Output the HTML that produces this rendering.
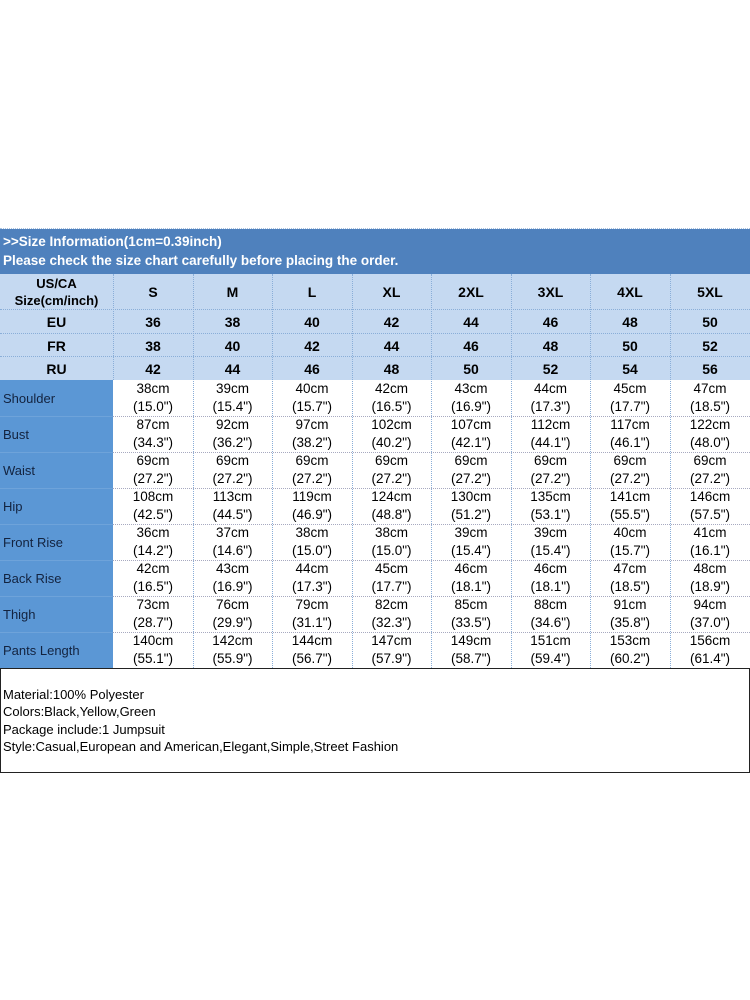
<!DOCTYPE html>
<html>
<head>
<meta charset="utf-8">
<style>
html,body{margin:0;padding:0;background:#fff;}
body{width:750px;height:1000px;position:relative;overflow:hidden;font-family:"Liberation Sans",Arial,sans-serif;}
.a{position:absolute;}
.hdr{left:0;top:229px;width:750px;height:45px;background:#4f81bd;}
.ttl{position:absolute;left:3px;color:#fff;font-weight:bold;font-size:13.5px;white-space:nowrap;}
.light{left:0;top:274px;width:750px;height:106px;background:#c5d9f1;}
.lab{left:0;top:380px;width:113px;height:289px;background:#5b97d5;}
.c{position:absolute;display:flex;align-items:center;justify-content:center;text-align:center;}
.b{font-weight:bold;font-size:14px;color:#000;}
.d{font-size:13.5px;color:#000;line-height:18px;}
.l{position:absolute;left:3px;font-size:13px;color:#13233f;display:flex;align-items:center;height:36px;}
.h{position:absolute;height:0;border-top:1px dotted #8aaed8;}
.v{position:absolute;width:0;border-left:1px dotted #8aaed8;}
.box{left:0;top:668px;width:748px;height:103px;border:1px solid #222;}
.txt{position:absolute;left:3px;top:686px;font-size:13px;line-height:17.3px;color:#000;white-space:nowrap;}
</style>
</head>
<body>
<div class="a hdr"></div>
<div class="ttl" style="top:234px;">&gt;&gt;Size Information(1cm=0.39inch)</div>
<div class="ttl" style="top:253px;">Please check the size chart carefully before placing the order.</div>
<div class="a light"></div>
<div class="a lab"></div>

<!-- horizontal lines -->
<div class="h" style="left:0;top:228px;width:750px;border-top-color:#a9c3e3;"></div>
<div class="h" style="left:0;top:309px;width:750px;"></div>
<div class="h" style="left:0;top:333px;width:750px;"></div>
<div class="h" style="left:0;top:356px;width:750px;"></div>
<div class="h" style="left:113px;top:416px;width:637px;border-top-color:#a7a9c0;"></div>
<div class="h" style="left:113px;top:452px;width:637px;border-top-color:#a7a9c0;"></div>
<div class="h" style="left:113px;top:488px;width:637px;border-top-color:#a7a9c0;"></div>
<div class="h" style="left:113px;top:524px;width:637px;border-top-color:#a7a9c0;"></div>
<div class="h" style="left:113px;top:560px;width:637px;border-top-color:#a7a9c0;"></div>
<div class="h" style="left:113px;top:596px;width:637px;border-top-color:#a7a9c0;"></div>
<div class="h" style="left:113px;top:632px;width:637px;border-top-color:#a7a9c0;"></div>
<div class="h" style="left:0;top:416px;width:113px;border-top:1px solid #6ea3da;"></div>
<div class="h" style="left:0;top:452px;width:113px;border-top:1px solid #6ea3da;"></div>
<div class="h" style="left:0;top:488px;width:113px;border-top:1px solid #6ea3da;"></div>
<div class="h" style="left:0;top:524px;width:113px;border-top:1px solid #6ea3da;"></div>
<div class="h" style="left:0;top:560px;width:113px;border-top:1px solid #6ea3da;"></div>
<div class="h" style="left:0;top:596px;width:113px;border-top:1px solid #6ea3da;"></div>
<div class="h" style="left:0;top:632px;width:113px;border-top:1px solid #6ea3da;"></div>

<!-- vertical lines -->
<div class="v" style="left:113px;top:274px;height:106px;"></div>
<div class="v" style="left:193px;top:274px;height:394px;"></div>
<div class="v" style="left:272px;top:274px;height:394px;"></div>
<div class="v" style="left:352px;top:274px;height:394px;"></div>
<div class="v" style="left:431px;top:274px;height:394px;"></div>
<div class="v" style="left:511px;top:274px;height:394px;"></div>
<div class="v" style="left:590px;top:274px;height:394px;"></div>
<div class="v" style="left:670px;top:274px;height:394px;"></div>

<!-- header rows -->
<div class="c b" style="left:0;top:274px;width:113px;height:36px;font-size:13px;line-height:17px;">US/CA<br>Size(cm/inch)</div>
<div class="c b" style="left:113px;top:274px;width:80px;height:36px;">S</div>
<div class="c b" style="left:193px;top:274px;width:79px;height:36px;">M</div>
<div class="c b" style="left:272px;top:274px;width:80px;height:36px;">L</div>
<div class="c b" style="left:352px;top:274px;width:79px;height:36px;">XL</div>
<div class="c b" style="left:431px;top:274px;width:80px;height:36px;">2XL</div>
<div class="c b" style="left:511px;top:274px;width:79px;height:36px;">3XL</div>
<div class="c b" style="left:590px;top:274px;width:80px;height:36px;">4XL</div>
<div class="c b" style="left:670px;top:274px;width:80px;height:36px;">5XL</div>

<div class="c b" style="left:0;top:310px;width:113px;height:23px;">EU</div>
<div class="c b" style="left:113px;top:310px;width:80px;height:23px;">36</div>
<div class="c b" style="left:193px;top:310px;width:79px;height:23px;">38</div>
<div class="c b" style="left:272px;top:310px;width:80px;height:23px;">40</div>
<div class="c b" style="left:352px;top:310px;width:79px;height:23px;">42</div>
<div class="c b" style="left:431px;top:310px;width:80px;height:23px;">44</div>
<div class="c b" style="left:511px;top:310px;width:79px;height:23px;">46</div>
<div class="c b" style="left:590px;top:310px;width:80px;height:23px;">48</div>
<div class="c b" style="left:670px;top:310px;width:80px;height:23px;">50</div>

<div class="c b" style="left:0;top:334px;width:113px;height:23px;">FR</div>
<div class="c b" style="left:113px;top:334px;width:80px;height:23px;">38</div>
<div class="c b" style="left:193px;top:334px;width:79px;height:23px;">40</div>
<div class="c b" style="left:272px;top:334px;width:80px;height:23px;">42</div>
<div class="c b" style="left:352px;top:334px;width:79px;height:23px;">44</div>
<div class="c b" style="left:431px;top:334px;width:80px;height:23px;">46</div>
<div class="c b" style="left:511px;top:334px;width:79px;height:23px;">48</div>
<div class="c b" style="left:590px;top:334px;width:80px;height:23px;">50</div>
<div class="c b" style="left:670px;top:334px;width:80px;height:23px;">52</div>

<div class="c b" style="left:0;top:357px;width:113px;height:23px;">RU</div>
<div class="c b" style="left:113px;top:357px;width:80px;height:23px;">42</div>
<div class="c b" style="left:193px;top:357px;width:79px;height:23px;">44</div>
<div class="c b" style="left:272px;top:357px;width:80px;height:23px;">46</div>
<div class="c b" style="left:352px;top:357px;width:79px;height:23px;">48</div>
<div class="c b" style="left:431px;top:357px;width:80px;height:23px;">50</div>
<div class="c b" style="left:511px;top:357px;width:79px;height:23px;">52</div>
<div class="c b" style="left:590px;top:357px;width:80px;height:23px;">54</div>
<div class="c b" style="left:670px;top:357px;width:80px;height:23px;">56</div>

<!-- labels -->
<div class="l" style="top:380px;">Shoulder</div>
<div class="l" style="top:416px;">Bust</div>
<div class="l" style="top:452px;">Waist</div>
<div class="l" style="top:488px;">Hip</div>
<div class="l" style="top:524px;">Front Rise</div>
<div class="l" style="top:560px;">Back Rise</div>
<div class="l" style="top:596px;">Thigh</div>
<div class="l" style="top:632px;">Pants Length</div>

<!-- Shoulder -->
<div class="c d" style="left:113px;top:380px;width:80px;height:36px;">38cm<br>(15.0")</div>
<div class="c d" style="left:193px;top:380px;width:79px;height:36px;">39cm<br>(15.4")</div>
<div class="c d" style="left:272px;top:380px;width:80px;height:36px;">40cm<br>(15.7")</div>
<div class="c d" style="left:352px;top:380px;width:79px;height:36px;">42cm<br>(16.5")</div>
<div class="c d" style="left:431px;top:380px;width:80px;height:36px;">43cm<br>(16.9")</div>
<div class="c d" style="left:511px;top:380px;width:79px;height:36px;">44cm<br>(17.3")</div>
<div class="c d" style="left:590px;top:380px;width:80px;height:36px;">45cm<br>(17.7")</div>
<div class="c d" style="left:670px;top:380px;width:80px;height:36px;">47cm<br>(18.5")</div>
<!-- Bust -->
<div class="c d" style="left:113px;top:416px;width:80px;height:36px;">87cm<br>(34.3")</div>
<div class="c d" style="left:193px;top:416px;width:79px;height:36px;">92cm<br>(36.2")</div>
<div class="c d" style="left:272px;top:416px;width:80px;height:36px;">97cm<br>(38.2")</div>
<div class="c d" style="left:352px;top:416px;width:79px;height:36px;">102cm<br>(40.2")</div>
<div class="c d" style="left:431px;top:416px;width:80px;height:36px;">107cm<br>(42.1")</div>
<div class="c d" style="left:511px;top:416px;width:79px;height:36px;">112cm<br>(44.1")</div>
<div class="c d" style="left:590px;top:416px;width:80px;height:36px;">117cm<br>(46.1")</div>
<div class="c d" style="left:670px;top:416px;width:80px;height:36px;">122cm<br>(48.0")</div>
<!-- Waist -->
<div class="c d" style="left:113px;top:452px;width:80px;height:36px;">69cm<br>(27.2")</div>
<div class="c d" style="left:193px;top:452px;width:79px;height:36px;">69cm<br>(27.2")</div>
<div class="c d" style="left:272px;top:452px;width:80px;height:36px;">69cm<br>(27.2")</div>
<div class="c d" style="left:352px;top:452px;width:79px;height:36px;">69cm<br>(27.2")</div>
<div class="c d" style="left:431px;top:452px;width:80px;height:36px;">69cm<br>(27.2")</div>
<div class="c d" style="left:511px;top:452px;width:79px;height:36px;">69cm<br>(27.2")</div>
<div class="c d" style="left:590px;top:452px;width:80px;height:36px;">69cm<br>(27.2")</div>
<div class="c d" style="left:670px;top:452px;width:80px;height:36px;">69cm<br>(27.2")</div>
<!-- Hip -->
<div class="c d" style="left:113px;top:488px;width:80px;height:36px;">108cm<br>(42.5")</div>
<div class="c d" style="left:193px;top:488px;width:79px;height:36px;">113cm<br>(44.5")</div>
<div class="c d" style="left:272px;top:488px;width:80px;height:36px;">119cm<br>(46.9")</div>
<div class="c d" style="left:352px;top:488px;width:79px;height:36px;">124cm<br>(48.8")</div>
<div class="c d" style="left:431px;top:488px;width:80px;height:36px;">130cm<br>(51.2")</div>
<div class="c d" style="left:511px;top:488px;width:79px;height:36px;">135cm<br>(53.1")</div>
<div class="c d" style="left:590px;top:488px;width:80px;height:36px;">141cm<br>(55.5")</div>
<div class="c d" style="left:670px;top:488px;width:80px;height:36px;">146cm<br>(57.5")</div>
<!-- Front Rise -->
<div class="c d" style="left:113px;top:524px;width:80px;height:36px;">36cm<br>(14.2")</div>
<div class="c d" style="left:193px;top:524px;width:79px;height:36px;">37cm<br>(14.6")</div>
<div class="c d" style="left:272px;top:524px;width:80px;height:36px;">38cm<br>(15.0")</div>
<div class="c d" style="left:352px;top:524px;width:79px;height:36px;">38cm<br>(15.0")</div>
<div class="c d" style="left:431px;top:524px;width:80px;height:36px;">39cm<br>(15.4")</div>
<div class="c d" style="left:511px;top:524px;width:79px;height:36px;">39cm<br>(15.4")</div>
<div class="c d" style="left:590px;top:524px;width:80px;height:36px;">40cm<br>(15.7")</div>
<div class="c d" style="left:670px;top:524px;width:80px;height:36px;">41cm<br>(16.1")</div>
<!-- Back Rise -->
<div class="c d" style="left:113px;top:560px;width:80px;height:36px;">42cm<br>(16.5")</div>
<div class="c d" style="left:193px;top:560px;width:79px;height:36px;">43cm<br>(16.9")</div>
<div class="c d" style="left:272px;top:560px;width:80px;height:36px;">44cm<br>(17.3")</div>
<div class="c d" style="left:352px;top:560px;width:79px;height:36px;">45cm<br>(17.7")</div>
<div class="c d" style="left:431px;top:560px;width:80px;height:36px;">46cm<br>(18.1")</div>
<div class="c d" style="left:511px;top:560px;width:79px;height:36px;">46cm<br>(18.1")</div>
<div class="c d" style="left:590px;top:560px;width:80px;height:36px;">47cm<br>(18.5")</div>
<div class="c d" style="left:670px;top:560px;width:80px;height:36px;">48cm<br>(18.9")</div>
<!-- Thigh -->
<div class="c d" style="left:113px;top:596px;width:80px;height:36px;">73cm<br>(28.7")</div>
<div class="c d" style="left:193px;top:596px;width:79px;height:36px;">76cm<br>(29.9")</div>
<div class="c d" style="left:272px;top:596px;width:80px;height:36px;">79cm<br>(31.1")</div>
<div class="c d" style="left:352px;top:596px;width:79px;height:36px;">82cm<br>(32.3")</div>
<div class="c d" style="left:431px;top:596px;width:80px;height:36px;">85cm<br>(33.5")</div>
<div class="c d" style="left:511px;top:596px;width:79px;height:36px;">88cm<br>(34.6")</div>
<div class="c d" style="left:590px;top:596px;width:80px;height:36px;">91cm<br>(35.8")</div>
<div class="c d" style="left:670px;top:596px;width:80px;height:36px;">94cm<br>(37.0")</div>
<!-- Pants Length -->
<div class="c d" style="left:113px;top:632px;width:80px;height:36px;">140cm<br>(55.1")</div>
<div class="c d" style="left:193px;top:632px;width:79px;height:36px;">142cm<br>(55.9")</div>
<div class="c d" style="left:272px;top:632px;width:80px;height:36px;">144cm<br>(56.7")</div>
<div class="c d" style="left:352px;top:632px;width:79px;height:36px;">147cm<br>(57.9")</div>
<div class="c d" style="left:431px;top:632px;width:80px;height:36px;">149cm<br>(58.7")</div>
<div class="c d" style="left:511px;top:632px;width:79px;height:36px;">151cm<br>(59.4")</div>
<div class="c d" style="left:590px;top:632px;width:80px;height:36px;">153cm<br>(60.2")</div>
<div class="c d" style="left:670px;top:632px;width:80px;height:36px;">156cm<br>(61.4")</div>

<!-- bottom box -->
<div class="a box"></div>
<div class="txt">Material:100% Polyester<br>Colors:Black,Yellow,Green<br>Package include:1 Jumpsuit<br>Style:Casual,European and American,Elegant,Simple,Street Fashion</div>
</body>
</html>
